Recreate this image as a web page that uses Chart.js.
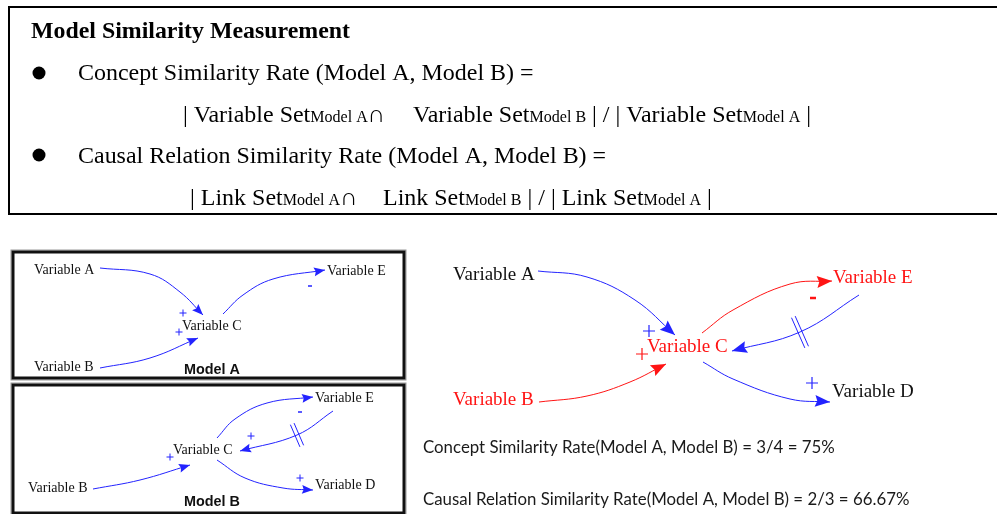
<!DOCTYPE html>
<html>
<head>
<meta charset="utf-8">
<script src="https://cdn.jsdelivr.net/npm/chart.js"></script>
<style>
  html, body { margin: 0; padding: 0; background: #fff; }
  #wrap { width: 997px; height: 514px; }
</style>
</head>
<body>
<div id="wrap"><canvas id="chart"></canvas></div>
<script>
// Everything lives in picture units: x 0..997, y 0..514 (top down)

// Header text
const titleText = 'Model Similarity Measurement';
const bulletPoints = [{ x: 39, y: 73 }, { x: 39, y: 155 }];
// each row: list of pieces, each piece a list of [text, isSubscript]
const formulaRows = [
  [[['Concept Similarity Rate (Model A, Model B) =', false]]],
  [[['| Variable Set', false], ['Model A', true], ['\u2229', false]],
   [['Variable Set', false], ['Model B', true], [' | / | Variable Set', false], ['Model A', true], [' |', false]]],
  [[['Causal Relation Similarity Rate (Model A, Model B) =', false]]],
  [[['| Link Set', false], ['Model A', true], ['\u2229', false]],
   [['Link Set', false], ['Model B', true], [' | / | Link Set', false], ['Model A', true], [' |', false]]]
];
const formulaStartX = [[78], [183, 413], [78], [190, 383]];
const formulaBaseY = [80, 122, 163, 205];

// Model A
const modelANodes = ['Variable A', 'Variable B', 'Variable C', 'Variable E'];
const modelANodeX = [34, 34, 182, 327];
const modelANodeY = [270, 367, 326, 271];
const modelALinks = [
  [[100, 268], [150, 274], [180, 292], [203, 315]],  // A -> C
  [[100, 368], [150, 358], [198, 338]],              // B -> C
  [[223, 314], [243, 295], [273, 279], [325, 270]]   // C -> E
];
const modelAPlus = [{ x: 183, y: 313 }, { x: 179, y: 332 }];
const modelAMinus = [{ x: 310, y: 286 }];

// Model B
const modelBNodes = ['Variable E', 'Variable C', 'Variable B', 'Variable D'];
const modelBNodeX = [315, 173, 28, 315];
const modelBNodeY = [398, 450, 488, 485];
const modelBLinks = [
  [[217, 438], [235, 419], [267, 403], [313, 397]],  // C -> E
  [[333, 411], [297, 435], [240, 451]],              // E -> C (delayed)
  [[93, 489], [140, 480], [190, 465]],               // B -> C
  [[217, 460], [245, 478], [283, 488], [313, 490]]   // C -> D
];
const modelBPlus = [{ x: 251, y: 436 }, { x: 170, y: 457 }, { x: 300, y: 478 }];
const modelBMinus = [{ x: 300, y: 412 }];

// Merged model
const mergedNodes = ['Variable A', 'Variable B', 'Variable C', 'Variable E', 'Variable D'];
const mergedNodeX = [453, 453, 647, 833, 832];
const mergedNodeY = [275, 400, 347, 278, 392];
const mergedNodeRed = [false, true, true, true, false];
const mergedLinks = [
  [[538, 271], [587, 277], [635, 300], [675, 335]],  // A -> C
  [[539, 402], [587, 396], [630, 382], [666, 364]],  // B -> C
  [[702, 333], [733, 310], [790, 284], [832, 281]],  // C -> E
  [[859, 295], [800, 332], [732, 351]],              // E -> C (delayed)
  [[703, 362], [733, 379], [790, 399], [830, 402]]   // C -> D
];
const mergedLinkRed = [false, true, true, false, false];
const mergedPlusBlue = [{ x: 649, y: 331 }, { x: 812, y: 383 }];
const mergedPlusRed = [{ x: 642, y: 354 }];
const mergedMinusRed = [{ x: 813, y: 298 }];

// Results
const resultLines = [
  'Concept Similarity Rate(Model A, Model B) = 3/4 = 75%',
  'Causal Relation Similarity Rate(Model A, Model B) = 2/3 = 66.67%'
];

const BLUE = '#2323ff';
const RED = '#ff1414';
const SERIF = '"Liberation Serif", "Times New Roman", serif';

function linkDataset(path, color, head, delay) {
  return {
    data: path.map(([x, y]) => ({ x, y })),
    borderColor: color,
    borderWidth: 1,
    tension: 0.4,
    pointRadius: 0,
    fill: false,
    headSize: head,
    delay: !!delay
  };
}

function markDataset(points, style, color, r, w) {
  return {
    data: points,
    showLine: false,
    pointStyle: style,
    pointRadius: r,
    pointBorderColor: color,
    pointBackgroundColor: color,
    pointBorderWidth: w
  };
}

const datasets = [];
modelALinks.forEach(p => datasets.push(linkDataset(p, BLUE, 11, false)));
modelBLinks.forEach((p, i) => datasets.push(linkDataset(p, BLUE, 11, i === 1)));
mergedLinks.forEach((p, i) => datasets.push(linkDataset(p, mergedLinkRed[i] ? RED : BLUE, 15, i === 3)));
datasets.push(markDataset(bulletPoints, 'circle', '#000', 6.5, 0));
datasets.push(markDataset(modelAPlus.concat(modelBPlus), 'cross', BLUE, 3.5, 1));
datasets.push(markDataset(modelAMinus.concat(modelBMinus), 'line', BLUE, 2, 1.5));
datasets.push(markDataset(mergedPlusBlue, 'cross', BLUE, 6, 1.2));
datasets.push(markDataset(mergedPlusRed, 'cross', RED, 6, 1.2));
datasets.push(markDataset(mergedMinusRed, 'line', RED, 3, 2.5));

function fitFont(ctx, text, width, weight, family) {
  ctx.font = `${weight} 100px ${family}`;
  return 100 * width / ctx.measureText(text).width;
}

function drawRow(ctx, pieces, x, y, size) {
  let cx = x;
  pieces.forEach(([t, sub]) => {
    ctx.font = `${sub ? size * 0.67 : size}px ${SERIF}`;
    ctx.fillText(t, cx, y);
    cx += ctx.measureText(t).width;
  });
}

function drawNodes(ctx, px, py, names, xs, ys, size, colors) {
  ctx.textBaseline = 'middle';
  names.forEach((n, i) => {
    ctx.font = `${size}px ${SERIF}`;
    ctx.fillStyle = colors ? colors[i] : '#111';
    ctx.fillText(n, px(xs[i]), py(ys[i]));
  });
}

const diagramPlugin = {
  id: 'diagram',
  beforeDatasetsDraw(chart) {
    const ctx = chart.ctx;
    const px = v => chart.scales.x.getPixelForValue(v);
    const py = v => chart.scales.y.getPixelForValue(v);
    ctx.save();

    // frames
    ctx.strokeStyle = '#000';
    ctx.lineWidth = 2;
    ctx.strokeRect(px(9), py(7), px(1000) - px(9), py(214) - py(7));
    [[13, 252, 404, 378], [13, 385, 404, 513]].forEach(([x0, y0, x1, y1]) => {
      ctx.strokeStyle = '#999';
      ctx.lineWidth = 1;
      ctx.strokeRect(px(x0) - 2, py(y0) - 2, px(x1) - px(x0) + 4, py(y1) - py(y0) + 4);
      ctx.strokeStyle = '#111';
      ctx.lineWidth = 3;
      ctx.strokeRect(px(x0), py(y0), px(x1) - px(x0), py(y1) - py(y0));
    });

    // header
    ctx.fillStyle = '#000';
    ctx.textBaseline = 'alphabetic';
    const ts = fitFont(ctx, titleText, 319, 'bold', SERIF);
    ctx.font = `bold ${ts}px ${SERIF}`;
    ctx.fillText(titleText, px(31), py(38));
    const s1 = fitFont(ctx, formulaRows[0][0][0][0], 455, 'normal', SERIF);
    const s3 = fitFont(ctx, formulaRows[2][0][0][0], 529, 'normal', SERIF);
    const big = (s1 + s3) / 2;
    formulaRows.forEach((row, r) => {
      row.forEach((pieces, k) => drawRow(ctx, pieces, px(formulaStartX[r][k]), py(formulaBaseY[r]), big));
    });

    // node labels
    drawNodes(ctx, px, py, modelANodes, modelANodeX, modelANodeY, 14);
    drawNodes(ctx, px, py, modelBNodes, modelBNodeX, modelBNodeY, 14);
    drawNodes(ctx, px, py, mergedNodes, mergedNodeX, mergedNodeY, 19,
      mergedNodeRed.map(r => r ? RED : '#111'));

    // model captions
    ctx.fillStyle = '#111';
    const ms = fitFont(ctx, 'Model A', 56, 'bold', '"Liberation Sans", Arial, sans-serif');
    ctx.font = `bold ${ms}px "Liberation Sans", Arial, sans-serif`;
    ctx.fillText('Model A', px(184), py(370));
    ctx.fillText('Model B', px(184), py(502));

    // results
    ctx.fillStyle = '#1a1a1a';
    const rs = fitFont(ctx, resultLines[0], 412, 'normal', 'Lato, sans-serif');
    ctx.font = `${rs}px Lato, sans-serif`;
    ctx.fillText(resultLines[0], px(423), py(448));
    ctx.fillText(resultLines[1], px(423), py(500));
    ctx.restore();
  },
  afterDatasetsDraw(chart) {
    const ctx = chart.ctx;
    ctx.save();
    chart.data.datasets.forEach((ds, i) => {
      if (!ds.headSize) return;
      const pts = chart.getDatasetMeta(i).data;
      const end = pts[pts.length - 1];
      let dx = end.x - end.cp1x, dy = end.y - end.cp1y;
      if (!isFinite(dx) || Math.hypot(dx, dy) < 0.5) {
        dx = end.x - pts[pts.length - 2].x; dy = end.y - pts[pts.length - 2].y;
      }
      const len = Math.hypot(dx, dy);
      const ux = dx / len, uy = dy / len;
      const L = ds.headSize, W = ds.headSize * 0.4;
      ctx.fillStyle = ds.borderColor;
      ctx.beginPath();
      ctx.moveTo(end.x, end.y);
      ctx.lineTo(end.x - ux * L - uy * W, end.y - uy * L + ux * W);
      ctx.lineTo(end.x - ux * L * 0.85, end.y - uy * L * 0.85);
      ctx.lineTo(end.x - ux * L + uy * W, end.y - uy * L - ux * W);
      ctx.closePath();
      ctx.fill();

      if (ds.delay) {
        const mid = pts[1];
        let tx = mid.cp2x - mid.cp1x, ty = mid.cp2y - mid.cp1y;
        const tl = Math.hypot(tx, ty);
        tx /= tl; ty /= tl;
        const nx = -ty, ny = tx;
        const half = ds.headSize * 1.1;
        ctx.strokeStyle = ds.borderColor;
        ctx.lineWidth = 1;
        [-2, 2].forEach(o => {
          ctx.beginPath();
          ctx.moveTo(mid.x + tx * o - nx * half, mid.y + ty * o - ny * half);
          ctx.lineTo(mid.x + tx * o + nx * half, mid.y + ty * o + ny * half);
          ctx.stroke();
        });
      }
    });
    ctx.restore();
  }
};

new Chart(document.getElementById('chart'), {
  type: 'line',
  data: { datasets },
  options: {
    responsive: true,
    maintainAspectRatio: false,
    animation: false,
    events: [],
    layout: { padding: 0, autoPadding: false },
    plugins: { legend: { display: false }, tooltip: { enabled: false } },
    scales: {
      x: { type: 'linear', min: 0, max: 997, display: false },
      y: { type: 'linear', min: 0, max: 514, reverse: true, display: false }
    }
  },
  plugins: [diagramPlugin]
});
</script>
</body>
</html>
